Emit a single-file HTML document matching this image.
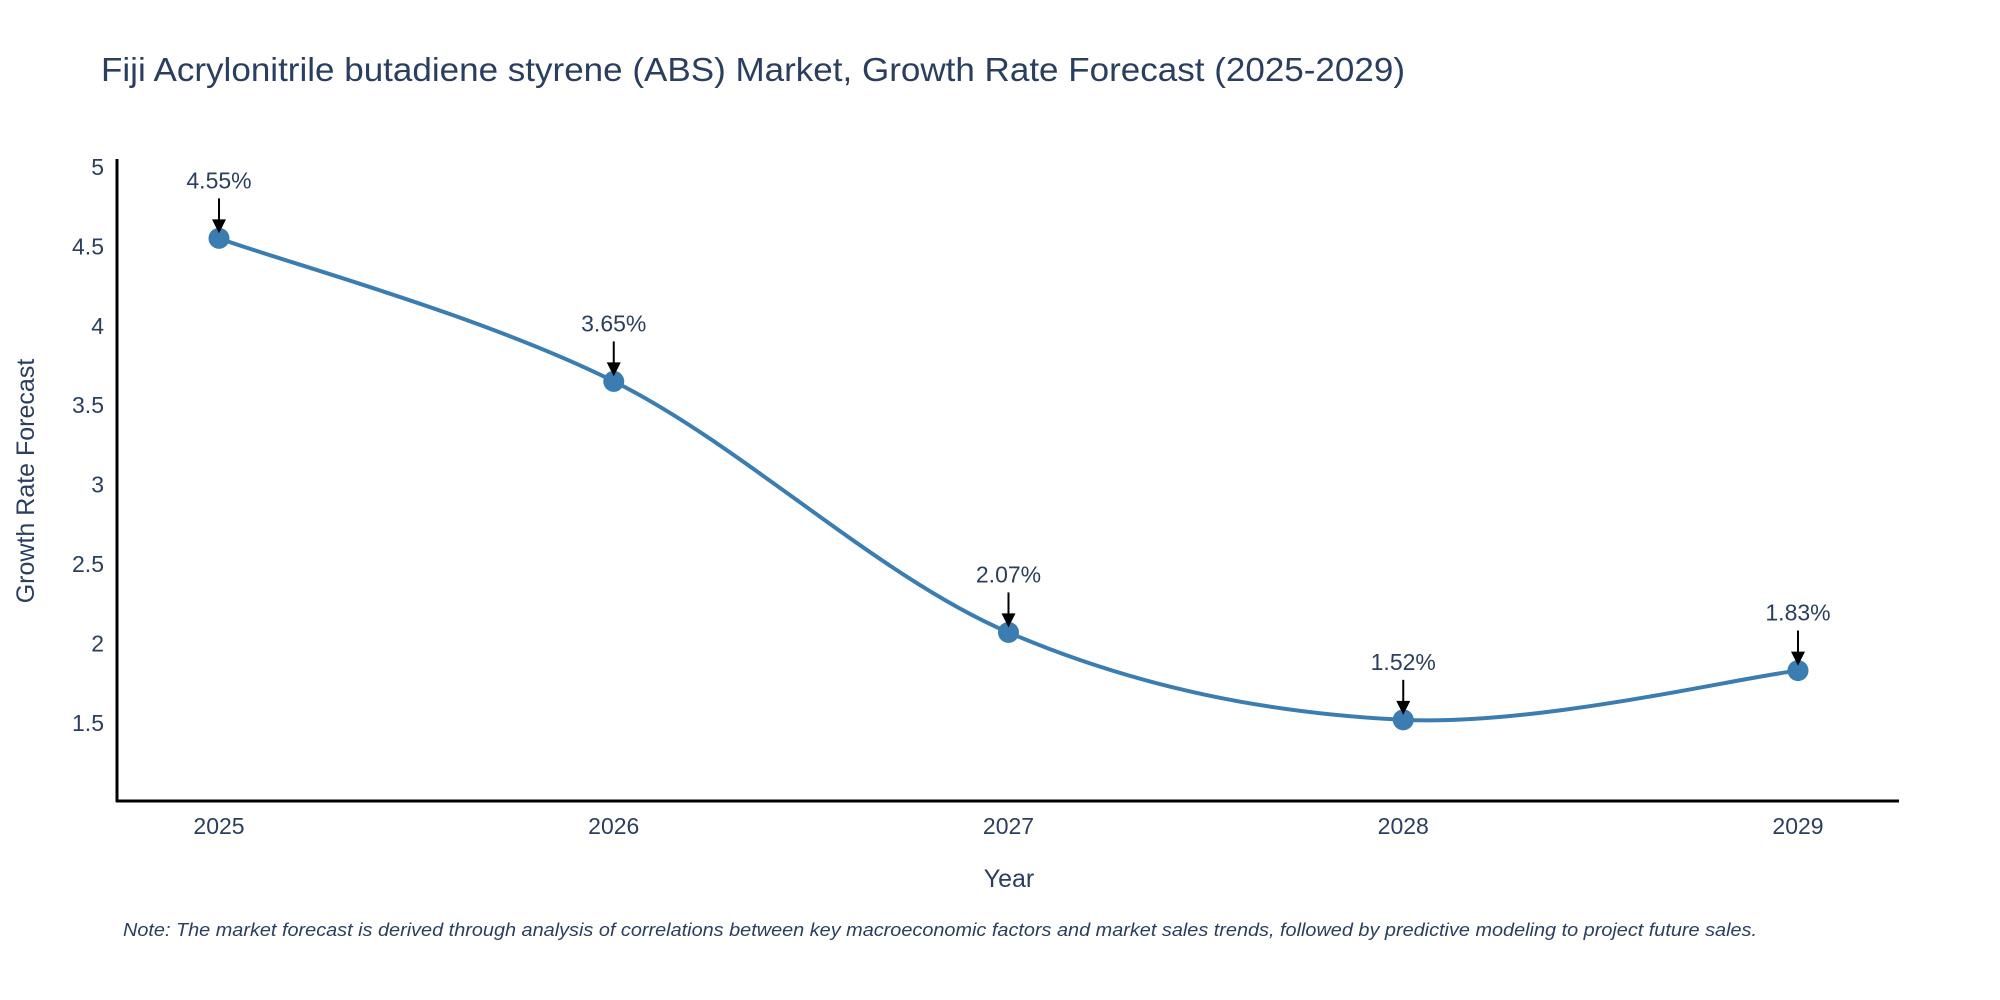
<!DOCTYPE html>
<html><head><meta charset="utf-8"><style>
html,body{margin:0;padding:0;background:#fff;}
svg{display:block;font-family:"Liberation Sans",sans-serif;}
</style></head><body>
<svg id="chart" width="2000" height="1000" viewBox="0 0 2000 1000" xmlns="http://www.w3.org/2000/svg">
<rect width="2000" height="1000" fill="#fff"/>
<text x="101" y="81" font-size="33" fill="#2a3f5f" textLength="1304" lengthAdjust="spacingAndGlyphs">Fiji Acrylonitrile butadiene styrene (ABS) Market, Growth Rate Forecast (2025-2029)</text>
<g id="yticks"></g>
<g id="xticks"></g>
<line x1="117" y1="159" x2="117" y2="802" stroke="#000" stroke-width="3"/>
<line x1="116" y1="801" x2="1899" y2="801" stroke="#000" stroke-width="3"/>
<path id="line" fill="none" stroke="#3b7db0" stroke-width="4"/>
<g id="points"></g>
<g id="annots"></g>
<text x="1009" y="887" font-size="25" fill="#2a3f5f" text-anchor="middle">Year</text>
<text x="0" y="0" font-size="25" fill="#2a3f5f" text-anchor="middle" transform="translate(34,481) rotate(-90)">Growth Rate Forecast</text>
<text x="123" y="936" font-size="18" font-style="italic" fill="#2a3f5f" textLength="1634" lengthAdjust="spacingAndGlyphs">Note: The market forecast is derived through analysis of correlations between key macroeconomic factors and market sales trends, followed by predictive modeling to project future sales.</text>
</svg>
<script>
const years = ["2025","2026","2027","2028","2029"];
const rates = [4.55, 3.65, 2.07, 1.52, 1.83];
const rateLabels = ["4.55%","3.65%","2.07%","1.52%","1.83%"];
const yTickValues = [1.5, 2, 2.5, 3, 3.5, 4, 4.5, 5];

const NS = "http://www.w3.org/2000/svg";
function xScale(i){ return 219 + i * (1798 - 219) / (years.length - 1); }
function yScale(v){ return 723 - (v - 1.5) * 158.9; }
function mk(tag, attrs, parent){
  const e = document.createElementNS(NS, tag);
  for (const k in attrs) e.setAttribute(k, attrs[k]);
  parent.appendChild(e); return e;
}
const yt = document.getElementById('yticks');
yTickValues.forEach(v => {
  const t = mk('text', {x: 104, y: yScale(v) + 8, 'font-size': 23, fill: '#2a3f5f', 'text-anchor': 'end'}, yt);
  
  
  t.textContent = String(v);
});
const xt = document.getElementById('xticks');
years.forEach((y, i) => {
  const t = mk('text', {x: xScale(i), y: 834, 'font-size': 23, fill: '#2a3f5f', 'text-anchor': 'middle'}, xt);
  
  
  t.textContent = y;
});
const pts = rates.map((v, i) => [xScale(i), yScale(v)]);
let d = `M${pts[0][0]},${pts[0][1]}`;
for (let i = 0; i < pts.length - 1; i++) {
  const p0 = pts[Math.max(0, i - 1)], p1 = pts[i], p2 = pts[i + 1], p3 = pts[Math.min(pts.length - 1, i + 2)];
  const k = 6;
  const c1 = [p1[0] + (p2[0] - p0[0]) / k, p1[1] + (p2[1] - p0[1]) / k];
  const c2 = [p2[0] - (p3[0] - p1[0]) / k, p2[1] - (p3[1] - p1[1]) / k];
  d += ` C${c1[0]},${c1[1]} ${c2[0]},${c2[1]} ${p2[0]},${p2[1]}`;
}
document.getElementById('line').setAttribute('d', d);
const pg = document.getElementById('points');
const ag = document.getElementById('annots');
pts.forEach((p, i) => {
  const c = mk('circle', {cx: p[0], cy: p[1], r: 10.5, fill: '#3b7db0'}, pg);
  
  
  const ln = mk('line', {x1: p[0], y1: p[1] - 40, x2: p[0], y2: p[1] - 15, stroke: '#000', 'stroke-width': 2}, ag);
  
  
  const ah = mk('polygon', {points: `${p[0]-7},${p[1]-19} ${p[0]+7},${p[1]-19} ${p[0]},${p[1]-5}`, fill: '#000'}, ag);
  
  
  const t = mk('text', {x: p[0], y: p[1] - 50, 'font-size': 23, fill: '#2a3f5f', 'text-anchor': 'middle'}, ag);
  
  
  t.textContent = rateLabels[i];
});
</script>
</body></html>
